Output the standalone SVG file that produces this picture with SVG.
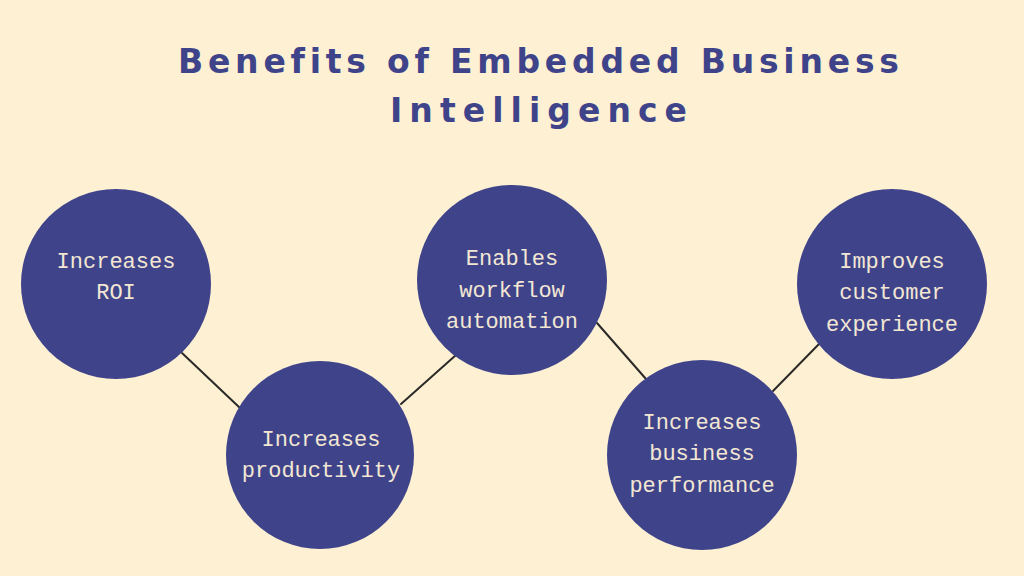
<svg xmlns="http://www.w3.org/2000/svg" width="1024" height="576" viewBox="0 0 1024 576">
<style>
.title{font-family:"DejaVu Sans","Liberation Sans",sans-serif;font-weight:bold;font-size:33px;fill:#3F448A;letter-spacing:3px}
.node circle{fill:#3F448A}
.node text{font-family:"Liberation Mono","DejaVu Sans Mono",monospace;font-size:22px;fill:#F3E7D4;text-anchor:middle}
.conn line{stroke:#2A2A28;stroke-width:2;stroke-linecap:round}
</style>
<rect width="1024" height="576" fill="#FDF0D3"/>
<g id="title">
<text class="title" x="178" y="73" textLength="724" lengthAdjust="spacing">Benefits of Embedded Business</text>
<text class="title" x="390" y="122" textLength="300" lengthAdjust="spacing">Intelligence</text>
</g>
<g id="connectors" class="conn">
<line x1="182" y1="353" x2="240" y2="408"/>
<line x1="401" y1="404" x2="456" y2="355"/>
<line x1="597" y1="323" x2="646" y2="379"/>
<line x1="773" y1="391" x2="819" y2="344"/>
</g>
<g id="node-roi" class="node">
<circle cx="116" cy="284" r="95"/>
<text x="116" y="268">Increases</text>
<text x="116" y="299">ROI</text>
</g>
<g id="node-productivity" class="node">
<circle cx="320" cy="455" r="94"/>
<text x="321" y="446">Increases</text>
<text x="321" y="477">productivity</text>
</g>
<g id="node-automation" class="node">
<circle cx="512" cy="280" r="95"/>
<text x="512" y="265">Enables</text>
<text x="512" y="297">workflow</text>
<text x="512" y="328">automation</text>
</g>
<g id="node-performance" class="node">
<circle cx="702" cy="455" r="95"/>
<text x="702" y="429">Increases</text>
<text x="702" y="460">business</text>
<text x="702" y="492">performance</text>
</g>
<g id="node-experience" class="node">
<circle cx="892" cy="284" r="95"/>
<text x="892" y="268">Improves</text>
<text x="892" y="299">customer</text>
<text x="892" y="331">experience</text>
</g>
</svg>
